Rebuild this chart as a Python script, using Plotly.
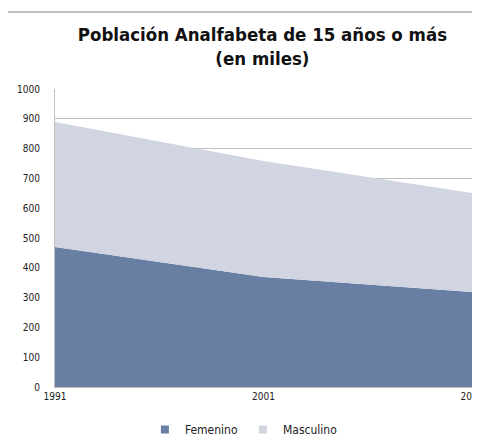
import plotly.graph_objects as go

# Población analfabeta de 15 años o más (miles)
years = ["1991", "2001", "2012"]
femenino = [470, 369, 319]
masculino = [419, 389, 332]
colores = {"Femenino": "#687ea3", "Masculino": "#d0d5e1"}

fnt = "DejaVu Sans Condensed, Liberation Sans Narrow, sans-serif"

fig = go.Figure()
for name, vals in [("Femenino", femenino), ("Masculino", masculino)]:
    fig.add_trace(go.Scatter(x=years, y=vals, name=name, stackgroup="one",
                             mode="none", fillcolor=colores[name], showlegend=False))
# square legend swatches like the original
for name in ["Femenino", "Masculino"]:
    fig.add_trace(go.Scatter(x=[None], y=[None], name=name, mode="markers",
                             marker=dict(symbol="square", size=8, color=colores[name])))

fig.update_layout(
    width=480, height=436,
    margin=dict(l=47, r=16, t=81, b=57, autoexpand=False),
    paper_bgcolor="white", plot_bgcolor="white",
    font=dict(family=fnt, size=10, color="#222"),
    title=dict(text="<b>Población Analfabeta de 15 años o más<br>(en miles)</b>",
               x=0.53, xanchor="center", y=0.925, yanchor="top",
               font=dict(family=fnt, size=18.5, color="#111")),
    legend=dict(orientation="h", traceorder="normal", x=0.453, xanchor="center",
                yref="container", y=0.0, yanchor="bottom",
                font=dict(size=12), itemwidth=30, tracegroupgap=0),
    xaxis=dict(type="category", range=[0, 2], showgrid=False, ticks="",
               showline=True, linecolor="#bfbfbf", ticklabeloverflow="allow"),
    yaxis=dict(range=[0, 1000], dtick=100, gridcolor="#bfbfbf", showline=True,
               linecolor="#bfbfbf", ticklabelstandoff=12, zeroline=False),
    shapes=[dict(type="rect", xref="paper", yref="paper", x0=-0.1175, x1=1.2, y0=-0.3, y1=1.258,
                 line=dict(color="#bfbfbf", width=2), layer="below")],
)

fig.write_html("out.html")
